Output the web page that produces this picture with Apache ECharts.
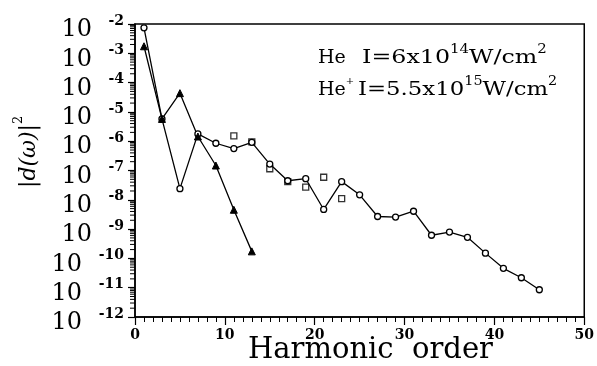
<!DOCTYPE html>
<html><head><meta charset="utf-8">
<script src="https://cdn.jsdelivr.net/npm/echarts@6/dist/echarts.min.js"></script>
<style>html,body{margin:0;padding:0;background:#fff}#c{width:597px;height:366px}</style>
</head><body><div id="c"></div>
<script>
// Harmonic orders
var heOrders = [1,3,5,7,9,11,13,15,17,19,21,23,25,27,29,31,33,35,37,39,41,43,45];
// log10 |d|^2 for He (circles)
var heLog = [-2.13,-5.24,-7.62,-5.75,-6.07,-6.25,-6.04,-6.78,-7.35,-7.28,-8.33,-7.38,-7.83,-8.57,-8.59,-8.39,-9.21,-9.10,-9.28,-9.82,-10.34,-10.66,-11.07];
// He+ (triangles)
var hepOrders = [1,3,5,7,9,11,13];
var hepLog = [-2.76,-5.24,-4.36,-5.84,-6.83,-8.34,-9.76];
// squares (no line)
var sqOrders = [11,13,15,17,19,21,23];
var sqLog = [-5.82,-6.02,-6.94,-7.38,-7.57,-7.23,-7.96];
var xTicks = [0,10,20,30,40,50];
var yExponents = [-12,-11,-10,-9,-8,-7,-6,-5,-4,-3,-2];

function pairs(xs, ls){ return xs.map(function(x,i){ return [x, Math.pow(10, ls[i])]; }); }
var minorVals = [];
yExponents.forEach(function(e){ if (e < -2) for (var k=2;k<=9;k++) minorVals.push([0, k*Math.pow(10,e)]); });

var serif = 'DejaVu Serif';
var richT = {t:{fontFamily:serif,fontSize:19,lineHeight:24,verticalAlign:'bottom',color:'#000'},s:{fontFamily:serif,fontSize:12,lineHeight:12,verticalAlign:'top',color:'#000'},p:{fontFamily:serif,fontSize:10,lineHeight:12,verticalAlign:'top',color:'#000'}};
var chart = echarts.init(document.getElementById('c'));
chart.setOption({
  animation:false,
  grid:{left:135,right:11,top:24,bottom:49,show:true,borderColor:'#000',borderWidth:1.5,backgroundColor:'transparent'},
  xAxis:{type:'value',min:0,max:50,interval:10,
    axisLine:{lineStyle:{color:'#000',width:1.5}},
    axisTick:{length:8,lineStyle:{color:'#000',width:1.2}},
    minorTick:{show:true,splitNumber:10,length:5,lineStyle:{color:'#000',width:1}},
    splitLine:{show:false},
    axisLabel:{margin:11,color:'#000',fontFamily:serif,fontWeight:'bold',fontSize:14}
  },
  yAxis:[
   {type:'log',min:1e-12,max:1e-2,interval:1,
    axisLine:{lineStyle:{color:'#000',width:1.5}},
    axisTick:{length:7,lineStyle:{color:'#000',width:1.2}},
    splitLine:{show:false},
    axisLabel:{margin:43,color:'#000',showMinLabel:true,showMaxLabel:true,verticalAlign:'top',
      formatter:function(v){ var e=Math.round(Math.log10(v)); return e<=-10 ? '{c|10}' : '{b|10}'; },
      rich:{b:{fontFamily:serif,fontSize:24,lineHeight:12,color:'#000'},
            c:{fontFamily:serif,fontSize:24,lineHeight:12,color:'#000',padding:[0,10,0,0]}}
    }
   },
   {type:'log',min:1e-12,max:1e-2,interval:1,position:'left',
    axisLine:{show:false},axisTick:{show:false},splitLine:{show:false},
    axisLabel:{margin:11,color:'#000',showMinLabel:true,showMaxLabel:true,
      formatter:function(v){ return '{s|'+Math.round(Math.log10(v))+'}'; },
      rich:{s:{fontFamily:serif,fontWeight:'bold',fontSize:14,lineHeight:14,color:'#000',padding:[0,0,6,0]}}
    }
   }
  ],
  series:[
    {type:'custom',clip:false,silent:true,data:minorVals,
     renderItem:function(params,api){ var p=api.coord([0,api.value(1)]); return {type:'line',shape:{x1:p[0]-5,y1:p[1],x2:p[0],y2:p[1]},style:{stroke:'#000',lineWidth:1}}; }},
    {type:'line',data:pairs(heOrders,heLog),symbol:'circle',symbolSize:6,
     lineStyle:{color:'#000',width:1.3},itemStyle:{color:'#fff',borderColor:'#000',borderWidth:1.3}},
    {type:'line',data:pairs(hepOrders,hepLog),symbol:'triangle',symbolSize:7,
     lineStyle:{color:'#000',width:1.3},itemStyle:{color:'#000',borderColor:'#000',borderWidth:1}},
    {type:'scatter',data:pairs(sqOrders,sqLog),symbol:'rect',symbolSize:6,
     itemStyle:{color:'#fff',borderColor:'#000',borderWidth:1.3}}
  ],
  graphic:[
    {type:'text',x:318,y:44,style:{rich:richT,text:'{t|He}'}},
    {type:'text',x:362,y:44,scaleX:1.25,style:{rich:richT,text:'{t|I=6x10}{s|14}{t|W/cm}{s|2}'}},
    {type:'text',x:318,y:76,style:{rich:richT,text:'{t|He}{p|+}'}},
    {type:'text',x:358,y:76,scaleX:1.2,style:{rich:richT,text:'{t|I=5.5x10}{s|15}{t|W/cm}{s|2}'}},
    {type:'text',left:248,top:336,style:{text:'Harmonic  order',font:'29px "DejaVu Serif"',fill:'#000'}},
    {type:'text',x:12,y:188,rotation:Math.PI/2,style:{rich:{t:{fontFamily:serif,fontStyle:'italic',fontSize:22,lineHeight:28,verticalAlign:'bottom',color:'#000'},s:{fontFamily:serif,fontSize:13,lineHeight:13,verticalAlign:'top',color:'#000'}},text:'{t||d(ω)|}{s|2}'}}
  ]
});
</script></body></html>
